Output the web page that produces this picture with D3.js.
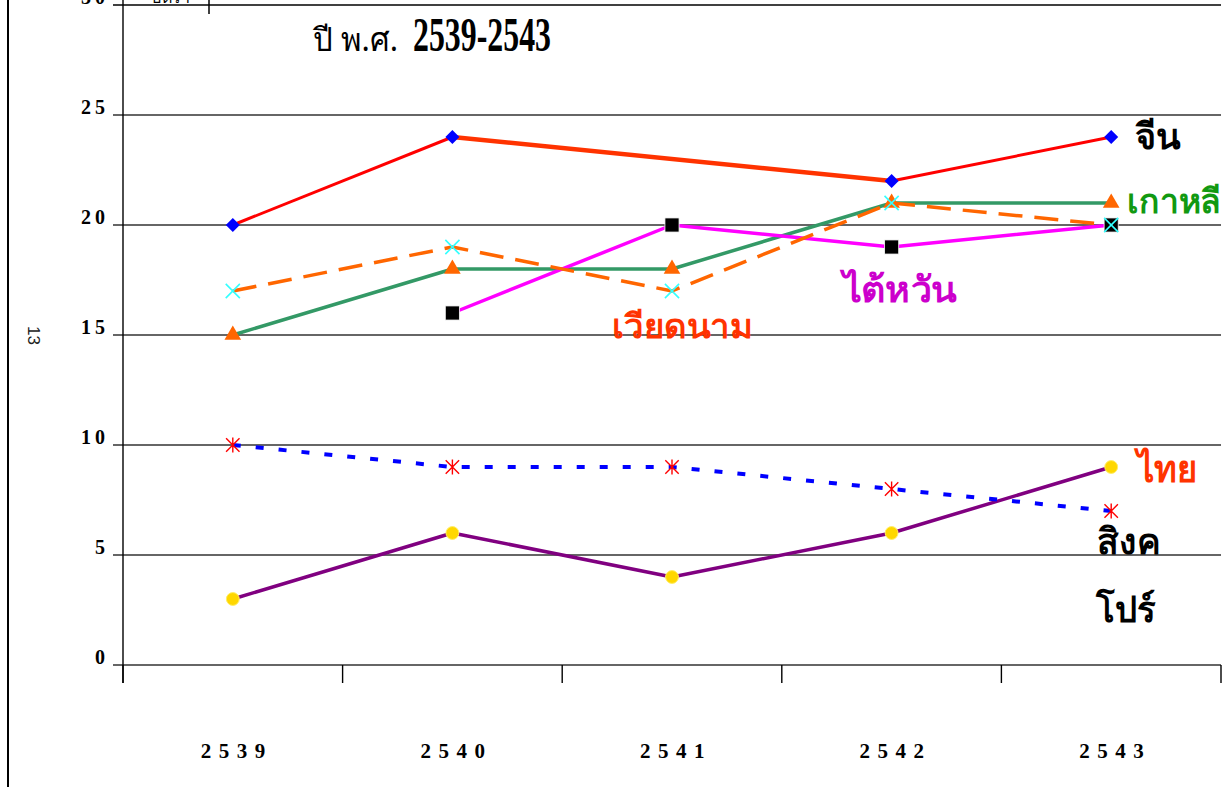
<!DOCTYPE html>
<html><head><meta charset="utf-8">
<script src="https://cdn.jsdelivr.net/npm/d3@7"></script>
<style>body{margin:0;background:#fff}svg{display:block}</style>
</head><body>
<svg id="c" width="1231" height="787"></svg>
<script>
// ---- data ----
const years = ["2539", "2540", "2541", "2542", "2543"];
const yTicks = [0, 5, 10, 15, 20, 25, 30];
const chinaVals = [20, 24, null, 22, 24];
const koreaVals = [15, 18, 18, 21, 21];
const taiwanVals = [null, 16, 20, 19, 20];
const vietnamVals = [17, 19, 17, 21, 20];
const blueVals = [10, 9, 9, 8, 7];
const purpleVals = [3, 6, 4, 6, 9];
const titleParts = ["ปี พ.ศ.", "2539-2543"];
const labelChina = "จีน";
const labelKorea = "เกาหลี";
const labelTaiwan = "ไต้หวัน";
const labelVietnam = "เวียดนาม";
const labelThai = "ไทย";
const labelSing = ["สิงค", "โปร์"];
const pageNumber = "13";

// ---- setup ----
const svg = d3.select("#c");
const plotL = 123, plotR = 1221, plotT = 5, plotB = 665;
const x = d3.scaleBand().domain(years).range([plotL, plotR]);
const cx = d => x(d) + x.bandwidth() / 2;
const y = d3.scaleLinear().domain([0, 30]).range([plotB, plotT]);
const serif = "'Liberation Serif','DejaVu Serif',serif";
const thaiFont = "'Noto Sans','DejaVu Sans',sans-serif";

// page border & stray marks
svg.append("line").attr("x1", 8).attr("x2", 8).attr("y1", 0).attr("y2", 787)
  .attr("stroke", "#000").attr("stroke-width", 2);
svg.append("line").attr("x1", 209).attr("x2", 209).attr("y1", 0).attr("y2", 14)
  .attr("stroke", "#000").attr("stroke-width", 1.5);
svg.append("text").attr("x", 152).attr("y", 3).attr("font-family", thaiFont)
  .attr("font-size", 16).text("อัตรา");

// page number rotated
svg.append("text").attr("transform", "translate(28,326) rotate(90)")
  .attr("font-family", "'Liberation Sans',sans-serif").attr("font-size", 17)
  .attr("fill", "#222").text(pageNumber);

// gridlines
svg.append("g").selectAll("line").data(yTicks).join("line")
  .attr("x1", plotL - 10).attr("x2", plotR)
  .attr("y1", d => y(d)).attr("y2", d => y(d))
  .attr("stroke", d => d === 30 ? "#000" : "#333").attr("stroke-width", 1.4);

// y tick labels
svg.append("g").selectAll("text").data(yTicks).join("text")
  .attr("x", 109).attr("y", d => y(d) - 1)
  .attr("text-anchor", "end").attr("font-family", serif)
  .attr("font-weight", "bold").attr("font-size", 20).attr("letter-spacing", 4)
  .text(d => d);

// y axis line
svg.append("line").attr("x1", plotL).attr("x2", plotL).attr("y1", 0).attr("y2", plotB + 18)
  .attr("stroke", "#000").attr("stroke-width", 1.4);

// x ticks
const bounds = years.map(d => x(d)).concat([x.range()[1]]);
svg.append("g").selectAll("line").data(bounds).join("line")
  .attr("x1", d => d).attr("x2", d => d).attr("y1", plotB).attr("y2", plotB + 18)
  .attr("stroke", "#000").attr("stroke-width", 1.4);

// x labels
svg.append("g").selectAll("text").data(years).join("text")
  .attr("x", d => cx(d) + 4).attr("y", 758).attr("text-anchor", "middle")
  .attr("font-family", serif).attr("font-weight", "bold").attr("font-size", 21)
  .attr("letter-spacing", 7.5).text(d => d);

// title
svg.append("text").attr("x", 313).attr("y", 51).attr("font-family", thaiFont)
  .attr("font-size", 33).attr("textLength", 85).attr("lengthAdjust", "spacingAndGlyphs")
  .text(titleParts[0]);
svg.append("text").attr("x", 413).attr("y", 51).attr("font-family", serif)
  .attr("font-weight", "bold").attr("font-size", 48)
  .attr("textLength", 138).attr("lengthAdjust", "spacingAndGlyphs")
  .text(titleParts[1]);

// ---- lines ----
const pts = vals => years.map((d, i) => ({ yr: d, v: vals[i] })).filter(p => p.v != null);
const lineGen = d3.line().x(p => cx(p.yr)).y(p => y(p.v));

function drawLine(vals, color, width, dash) {
  svg.append("path").datum(pts(vals)).attr("d", lineGen)
    .attr("fill", "none").attr("stroke", color).attr("stroke-width", width)
    .attr("stroke-dasharray", dash || null).attr("stroke-linejoin", "round");
}

// china: segments with individual styling
const chinaPts = pts(chinaVals);
d3.pairs(chinaPts).forEach((seg, i) => {
  svg.append("path").datum(seg).attr("d", lineGen).attr("fill", "none")
    .attr("stroke", i === 1 ? "#ff3300" : "#ff0000")
    .attr("stroke-width", i === 1 ? 4.5 : 3);
});
drawLine(koreaVals, "#339966", 3.5);
drawLine(purpleVals, "#800080", 3.5);
drawLine(blueVals, "#0000ff", 4, "8,15");
drawLine(taiwanVals, "#ff00ff", 3.5);
drawLine(vietnamVals, "#ff6600", 3.5, "24,12");

// ---- markers ----
function sym(vals, type, size, fill, stroke, sw) {
  svg.append("g").selectAll("path").data(pts(vals)).join("path")
    .attr("transform", p => `translate(${cx(p.yr)},${y(p.v)})`)
    .attr("d", d3.symbol().type(type).size(size))
    .attr("fill", fill).attr("stroke", stroke || "none").attr("stroke-width", sw || 0);
}
const xShape = { draw(ctx, size) { const r = Math.sqrt(size) / 2;
  ctx.moveTo(-r, -r); ctx.lineTo(r, r); ctx.moveTo(r, -r); ctx.lineTo(-r, r); } };
const starShape = { draw(ctx, size) { const r = Math.sqrt(size) / 2;
  ctx.moveTo(-r, -r); ctx.lineTo(r, r); ctx.moveTo(r, -r); ctx.lineTo(-r, r);
  ctx.moveTo(0, -r * 1.1); ctx.lineTo(0, r * 1.1); } };
const diamondShape = { draw(ctx, size) { const r = Math.sqrt(size) / 2;
  ctx.moveTo(0, -r); ctx.lineTo(r, 0); ctx.lineTo(0, r); ctx.lineTo(-r, 0); ctx.closePath(); } };

sym(chinaVals, diamondShape, 196, "#0000ff");
sym(taiwanVals, d3.symbolSquare, 200, "#000", "#fff", 0.8);
sym(koreaVals, d3.symbolTriangle, 120, "#ff6600");
sym(vietnamVals, xShape, 200, "none", "#33ffff", 1.6);
sym(blueVals, starShape, 180, "none", "#ff0000", 1.4);
sym(purpleVals, d3.symbolCircle, 130, "#ffd700", "#ffee66", 1);

// ---- series labels ----
function label(txt, xx, yy, color, size, len) {
  svg.append("text").attr("x", xx).attr("y", yy).attr("fill", color)
    .attr("font-family", thaiFont).attr("font-weight", "bold").attr("font-size", size)
    .attr("textLength", len).attr("lengthAdjust", "spacingAndGlyphs").text(txt);
}
const last = years[years.length - 1];
label(labelChina, cx(last) + 24, y(24) + 12, "#000", 36, 46);
label(labelKorea, cx(last) + 16, y(21) + 10, "#119911", 34, 94);
label(labelTaiwan, cx("2542") - 49, y(19) + 55, "#cc00cc", 36, 115);
label(labelVietnam, cx("2541") - 60, y(17) + 47, "#ff3300", 34, 140);
label(labelThai, cx(last) + 26, y(9) + 15, "#ff3300", 38, 60);
label(labelSing[0], cx(last) - 14, y(7) + 43, "#000", 36, 63);
label(labelSing[1], cx(last) - 15, y(7) + 111, "#000", 36, 59);
</script>
</body></html>
